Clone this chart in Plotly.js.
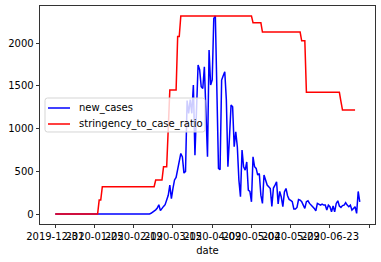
<!DOCTYPE html>
<html>
<head>
<meta charset="utf-8">
<script src="https://cdn.plot.ly/plotly-3.0.1.min.js"></script>
<style>html,body{margin:0;padding:0;background:#fff;}#chart{width:381px;height:262px;}</style>
</head>
<body>
<div id="chart"></div>
<script>
// ---- data ----
var startDate = "2019-12-31";
var seriesNames = ["new_cases", "stringency_to_case_ratio"];
var seriesColors = ["#0000ff", "#ff0000"];

var newCases = [
  0,0,0,0,0,0,0,0,0,0,
  0,0,0,0,0,0,0,0,0,0,
  0,0,0,0,0,0,0,0,0,0,
  0,0,0,0,0,0,0,0,0,0,
  0,0,0,0,0,0,0,0,0,0,
  0,0,0,0,0,0,0,0,0,0,
  0,10,20,40,50,70,110,40,70,90,
  110,180,220,340,180,300,400,430,520,620,
  710,670,480,500,1330,1180,1340,1180,1511,690,
  1200,1745,1690,1491,1470,1724,1200,671,1920,1511,
  1570,2291,2320,1400,535,520,1569,1620,1666,1340,
  554,900,1276,1255,788,964,788,398,203,750,
  554,515,610,281,265,144,671,554,535,457,
  476,222,125,457,398,340,320,300,90,305,
  340,379,120,265,200,86,260,300,215,172,
  160,145,60,60,78,170,164,145,105,66,
  145,156,125,100,86,66,39,125,117,105,
  117,105,105,47,105,86,27,94,27,125,
  156,94,78,100,105,133,105,86,105,47,
  66,86,8,265,144
];

var stringencyRatio = [
  0,0,0,0,0,0,0,0,0,0,
  0,0,0,0,0,0,0,0,0,0,
  0,0,0,0,0,0,0,0,164,164,
  320,320,320,320,320,320,320,320,320,320,
  320,320,320,320,320,320,320,320,320,320,
  320,320,320,320,320,320,320,320,320,320,
  320,320,320,320,398,398,398,398,398,554,
  554,554,1000,1452,1452,1452,1452,1452,2078,2078,
  2320,2320,2320,2320,2320,2320,2320,2320,2320,2320,
  2320,2320,2320,2320,2320,2320,2320,2320,2320,2320,
  2320,2320,2320,2320,2320,2320,2320,2320,2320,2320,
  2320,2320,2320,2320,2320,2320,2320,2320,2320,2320,
  2320,2320,2320,2320,2320,2320,2240,2240,2240,2240,
  2240,2240,2131,2131,2131,2131,2131,2131,2131,2131,
  2131,2131,2131,2131,2131,2131,2131,2131,2131,2131,
  2131,2131,2131,2131,2131,2131,2131,2029,2029,2029,
  1425,1425,1425,1425,1425,1425,1425,1425,1425,1425,
  1425,1425,1425,1425,1425,1425,1425,1425,1425,1425,
  1425,1425,1320,1218,1218,1218,1218,1218,1218,1218,
  1218,1218,null,null,null
];

var tickDates = ["2019-12-31","2020-01-25","2020-02-19","2020-03-15","2020-04-09","2020-05-04","2020-05-29","2020-06-23","2020-07-18"];
var tickLabels = ["2019-12-31","2020-01-25","2020-02-19","2020-03-15","2020-04-09","2020-05-04","2020-05-29","2020-06-23",""];
var yTicks = [0,500,1000,1500,2000];

// ---- build date categories (one per daily observation) ----
var DAY = 86400000;
var t0 = Date.parse(startDate + "T00:00:00Z");
function iso(ms){ return new Date(ms).toISOString().slice(0,19).replace("T"," "); }
var dates = newCases.map(function(_, i){ return iso(t0 + i*DAY); });

var span = (newCases.length - 1);
var xRange = [iso(t0 - 0.05*span*DAY), iso(t0 + 1.05*span*DAY)];
var allVals = newCases.concat(stringencyRatio.filter(function(v){return v!==null;}));
var vmax = Math.max.apply(null, allVals), vmin = Math.min.apply(null, allVals);
var yRange = [vmin - 0.05*(vmax-vmin), vmax + 0.05*(vmax-vmin)];

var series = [newCases, stringencyRatio];
var traces = series.map(function(vals, k){
  return {x: dates, y: vals, name: seriesNames[k], type: "scatter", mode: "lines",
          line: {color: seriesColors[k], width: 1.5}, showlegend: false};
});

// ---- plot geometry (pixels) ----
var W = 381, H = 262, M = {l: 40, r: 6, t: 6, b: 38};
var PW = W - M.l - M.r, PH = H - M.t - M.b;
function px(x){ return (x - M.l) / PW; }
function py(y){ return (H - M.b - y) / PH; }

// ---- matplotlib-style legend box ----
var legBox = {x0: 45, x1: 205, y0: 98, y1: 132, r: 2.5};
var legRows = [108, 124];
var shapes = [{
  type: "path", xref: "paper", yref: "paper", layer: "above",
  path: (function(){
    var b = legBox, r = b.r;
    function P(x, y){ return px(x).toFixed(5) + "," + py(y).toFixed(5); }
    return "M" + P(b.x0 + r, b.y0) + " L" + P(b.x1 - r, b.y0) +
      " Q" + P(b.x1, b.y0) + " " + P(b.x1, b.y0 + r) +
      " L" + P(b.x1, b.y1 - r) + " Q" + P(b.x1, b.y1) + " " + P(b.x1 - r, b.y1) +
      " L" + P(b.x0 + r, b.y1) + " Q" + P(b.x0, b.y1) + " " + P(b.x0, b.y1 - r) +
      " L" + P(b.x0, b.y0 + r) + " Q" + P(b.x0, b.y0) + " " + P(b.x0 + r, b.y0) + " Z";
  })(),
  fillcolor: "rgba(255,255,255,0.8)", line: {color: "#d5d5d5", width: 1}
}];
var annotations = [];
legRows.forEach(function(yy, k){
  shapes.push({type: "line", xref: "paper", yref: "paper", layer: "above",
    x0: px(48), x1: px(70), y0: py(yy), y1: py(yy),
    line: {color: seriesColors[k], width: 1.5}});
  annotations.push({xref: "paper", yref: "paper", x: px(77), y: py(yy),
    xanchor: "left", yanchor: "middle", showarrow: false, text: seriesNames[k],
    font: {family: "DejaVu Sans", size: 10, color: "#000"}});
});

var axisCommon = {
  showline: true, mirror: true, linecolor: "#000", linewidth: 0.8,
  ticks: "outside", ticklen: 3.5, tickwidth: 0.8, tickcolor: "#000",
  showgrid: false, zeroline: false,
  tickfont: {family: "DejaVu Sans", size: 10, color: "#000"}
};

var layout = {
  width: W, height: H,
  margin: {l: M.l, r: M.r, t: M.t, b: M.b, pad: 0},
  paper_bgcolor: "#fff", plot_bgcolor: "#fff",
  font: {family: "DejaVu Sans", size: 10, color: "#000"},
  xaxis: Object.assign({}, axisCommon, {
    type: "date", range: xRange, tickmode: "array",
    tickvals: tickDates, ticktext: tickLabels, tickangle: 0,
    title: {text: "date", font: {family: "DejaVu Sans", size: 10, color: "#000"}, standoff: 5}
  }),
  yaxis: Object.assign({}, axisCommon, {
    range: yRange, tickmode: "array", tickvals: yTicks
  }),
  showlegend: false,
  shapes: shapes,
  annotations: annotations
};

Plotly.newPlot("chart", traces, layout, {displayModeBar: false, staticPlot: true});
</script>
</body>
</html>
